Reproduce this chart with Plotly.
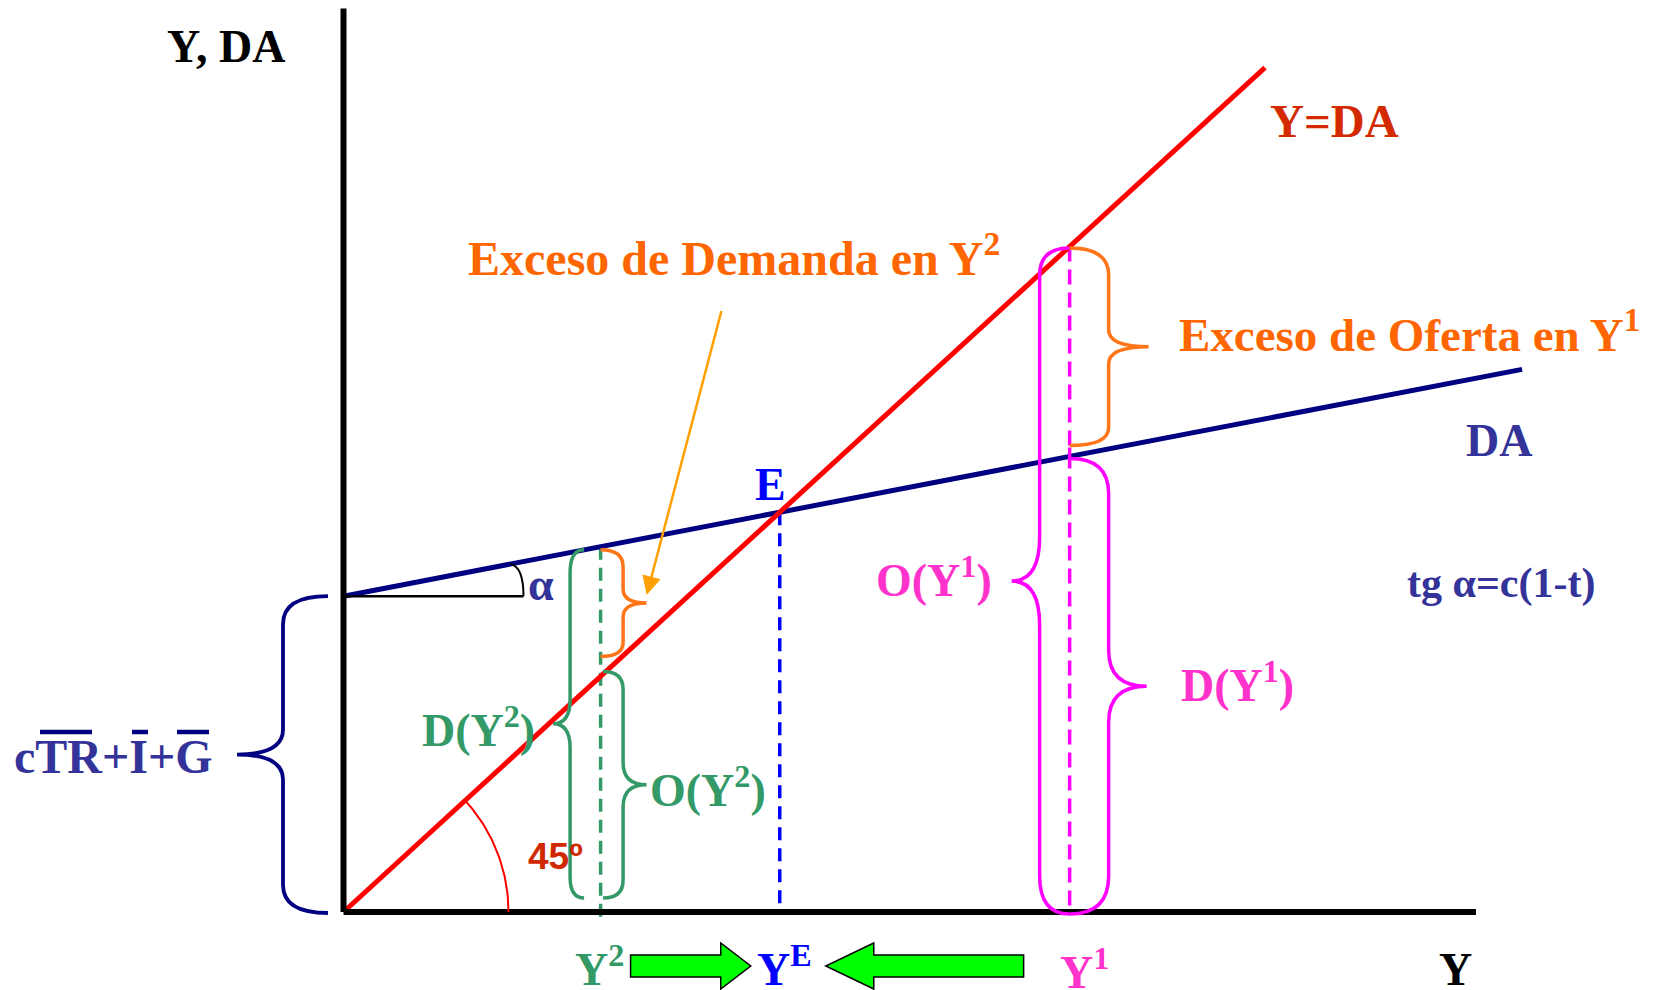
import numpy as np
import plotly.graph_objects as go

# ---------------- data (economic units) ----------------
line45_x = [0, 100]          # Y = DA line
line45_y = [0, 100]
da_intercept = 37.4          # cTR + I + G
da_slope = 0.21              # c(1-t)
da_x = [0, 127.9]
Y2 = 27.9
Y1 = 78.8
YE = da_intercept / (1 - da_slope)
axis_x_max = 122.9
axis_y_max = 107.0

def DA(y):
    return da_intercept + da_slope * y

# ---------------- frame ----------------
W, H = 1657, 990
OFF = 8                       # page body margin
ORIG = (343.5, 912.0)         # screen pixel of the origin
SX, SY = 9.2148, 8.444        # pixels per unit
XR = [-(ORIG[0] - OFF) / SX, (W - (ORIG[0] - OFF)) / SX]
YR = [-(H - (ORIG[1] - OFF)) / SY, (ORIG[1] - OFF) / SY]

def to_px(x, y):
    return ORIG[0] + x * SX, ORIG[1] - y * SY

def to_d(px, py):
    return (px - ORIG[0]) / SX, (ORIG[1] - py) / SY

def P(px, py):
    x, y = to_d(px, py)
    return f"{x:.4f},{y:.4f}"

def brace(end, spine, tip, top, bot, r_top, r_mid, r_bot, stub=None):
    mid = (top + bot) / 2
    s = ""
    if stub is not None:
        s += f"M{P(end, stub)} L{P(end, top)} "
    else:
        s += f"M{P(end, top)} "
    s += (f"Q{P(spine, top)} {P(spine, top + r_top)} "
          f"L{P(spine, mid - r_mid)} Q{P(spine, mid)} {P(tip, mid)} "
          f"Q{P(spine, mid)} {P(spine, mid + r_mid)} "
          f"L{P(spine, bot - r_bot)} Q{P(spine, bot)} {P(end, bot)}")
    return s

# pixel anchors derived from data
ox, axis_py = to_px(0, 0)
intercept_py = to_px(0, da_intercept)[1]
Y2px = to_px(Y2, 0)[0]
Y1px = to_px(Y1, 0)[0]
YEpx = to_px(YE, 0)[0]
da_y2_py = to_px(0, DA(Y2))[1]
red_y2_py = to_px(0, Y2)[1]
da_y1_py = to_px(0, DA(Y1))[1]
red_y1_py = to_px(0, Y1)[1]

NAVY = "#000080"
NAVYTXT = "#333399"
GREEN = "#339966"
MAG = "#FF00FF"
MAGTXT = "#FF33CC"
ORANGE = "#FF7518"
ORANGETXT = "#FF6600"
SERIF = "Liberation Serif, Times New Roman, serif"

fig = go.Figure()

def line_trace(x, y, color, width, dash=None):
    fig.add_trace(go.Scatter(x=x, y=y, mode="lines",
                             line=dict(color=color, width=width, dash=dash),
                             hoverinfo="skip", showlegend=False))

# dashed guides
line_trace([Y2, Y2], [DA(Y2), -0.56], GREEN, 3.5, "13px,8px")
line_trace([YE, YE], [DA(YE), 0], "#0000FF", 3.5, "13px,8px")
line_trace([Y1, Y1], [Y1, 0], MAG, 3.5, "15px,8px")

# main lines
line_trace(da_x, [DA(v) for v in da_x], NAVY, 5)
line_trace(line45_x, line45_y, "#FF0000", 5)

# axes
line_trace([0, axis_x_max], [0, 0], "black", 6)
line_trace([0, 0], [0, axis_y_max], "black", 6)

# 45 degree arc
ang45 = np.arctan2(SY * 1.0, SX * 1.0)
th = np.linspace(0, ang45, 40)
rad = 165
arc_px = ox + rad * np.cos(th)
arc_py = axis_py - rad * np.sin(th)
ad = [to_d(a, b) for a, b in zip(arc_px, arc_py)]
line_trace([p[0] for p in ad], [p[1] for p in ad], "#FF0000", 2)

shapes = []
def add_path(path, color, width, fill=None):
    d = dict(type="path", path=path, xref="x", yref="y",
             line=dict(color=color, width=width), layer="above")
    if fill:
        d["fillcolor"] = fill
    shapes.append(d)

# alpha angle marker
add_path(f"M{P(ox, intercept_py)} L{P(ox + 180, intercept_py)}", "black", 2.5)
xa = ox + 167
ya = to_px(0, DA(to_d(xa, 0)[0]))[1]
add_path(f"M{P(xa, ya)} C{P(xa + 9, ya + 2)} {P(ox + 180, ya + 12)} {P(ox + 180, intercept_py)}", "black", 2)

# braces
add_path(brace(ox - 15.5, ox - 60.5, ox - 106.5, intercept_py, axis_py + 1, 28, 25, 28), NAVY, 3.8)
add_path(brace(Y2px - 16.5, Y2px - 30.5, Y2px - 47.5, da_y2_py + 3, axis_py - 14, 23, 24, 21), GREEN, 3.5)
add_path(brace(Y2px, Y2px + 22.5, Y2px + 46, da_y2_py + 3, red_y2_py - 20, 17, 14, 14), ORANGE, 3.5)
add_path(brace(Y2px + 2.5, Y2px + 22.5, Y2px + 46, red_y2_py - 5, axis_py - 14, 18, 22, 18), GREEN, 3.5)
add_path(brace(Y1px, Y1px - 30, Y1px - 58, red_y1_py + 1.5, axis_py + 2, 27, 44, 38), MAG, 3.5)
add_path(brace(Y1px, Y1px + 39, Y1px + 77, da_y1_py + 2, axis_py + 2, 35, 36, 38, stub=da_y1_py - 9), MAG, 3.5)
add_path(brace(Y1px, Y1px + 39, Y1px + 79, red_y1_py + 1.5, da_y1_py - 11, 27, 17, 18), ORANGE, 3.5)

# movement arrows (bottom)
ay = 966
def right_arrow(x0, x1, head):
    return (f"M{P(x0, ay - 11)} L{P(x1 - head, ay - 11)} L{P(x1 - head, ay - 23)} L{P(x1, ay)} "
            f"L{P(x1 - head, ay + 23)} L{P(x1 - head, ay + 11)} L{P(x0, ay + 11)} Z")
def left_arrow(x0, x1, head):
    return (f"M{P(x1, ay - 11)} L{P(x0 + head, ay - 11)} L{P(x0 + head, ay - 23)} L{P(x0, ay)} "
            f"L{P(x0 + head, ay + 23)} L{P(x0 + head, ay + 11)} L{P(x1, ay + 11)} Z")
add_path(right_arrow(Y2px + 30, YEpx - 29, 30), "black", 1.5, "#00FF00")
add_path(left_arrow(YEpx + 46, Y1px - 46, 48), "black", 1.5, "#00FF00")

# overline bars on cTR+I+G
bar_y = 732
for a, b in [(40, 92), (132, 148), (177, 209)]:
    add_path(f"M{P(a, bar_y)} L{P(b, bar_y)}", NAVY, 4.5)

# ---------------- text ----------------
ann = []
def txt(text, px, py, color, size=46, xanchor="center", family=SERIF):
    x, y = to_d(px, py)
    ann.append(dict(x=x, y=y, xref="x", yref="y", text=text, showarrow=False,
                    xanchor=xanchor, yanchor="middle",
                    font=dict(family=family, size=size, color=color, weight="bold")))

txt("Y, DA", 226, 46, "black")
txt("Y=DA", 1334, 121, "#D42A00", size=47)
txt("Exceso de Demanda en Y<sup>2</sup>", 466, 255, ORANGETXT, size=48, xanchor="left")
txt("Exceso de Oferta en Y<sup>1</sup>", 1177, 331, ORANGETXT, size=47, xanchor="left")
txt("DA", 1499, 440, NAVYTXT)
txt("tg α=c(1-t)", 1501, 583, NAVYTXT, size=42)
txt("E", 770, 484, "#0000FF")
txt("α", 541, 584, NAVYTXT)
txt("45º", 526, 856, "#D02800", size=37, xanchor="left", family="Liberation Sans, Arial, sans-serif")
txt("D(Y<sup>2</sup>)", 420, 727, GREEN, xanchor="left")
txt("O(Y<sup>2</sup>)", 648, 787, GREEN, xanchor="left")
txt("O(Y<sup>1</sup>)", 874, 577, MAGTXT, xanchor="left")
txt("D(Y<sup>1</sup>)", 1179, 682, MAGTXT, xanchor="left")
txt("cTR+I+G", 12, 756, NAVYTXT, size=48, xanchor="left")
txt("Y<sup>2</sup>", 573, 966, GREEN, xanchor="left")
txt("Y<sup>E</sup>", 755, 966, "#0000FF", xanchor="left")
txt("Y<sup>1</sup>", 1058, 969, MAGTXT, xanchor="left")
txt("Y", 1437, 969, "black", xanchor="left")

# arrow from 'Exceso de Demanda' label
hx, hy = to_d(646.7, 595)
tx, ty = to_d(721.8, 309.6)
ann.append(dict(x=hx, y=hy, ax=tx, ay=ty, xref="x", yref="y", axref="x", ayref="y",
                text="", showarrow=True, arrowhead=2, arrowsize=1.5, arrowwidth=2.5,
                arrowcolor="#FFA000", standoff=0))

fig.update_layout(
    width=W, height=H, margin=dict(l=0, r=0, t=0, b=0),
    paper_bgcolor="white", plot_bgcolor="white", showlegend=False,
    xaxis=dict(range=XR, visible=False, fixedrange=True),
    yaxis=dict(range=YR, visible=False, fixedrange=True),
    shapes=shapes, annotations=ann,
)

fig.write_html("out.html")
